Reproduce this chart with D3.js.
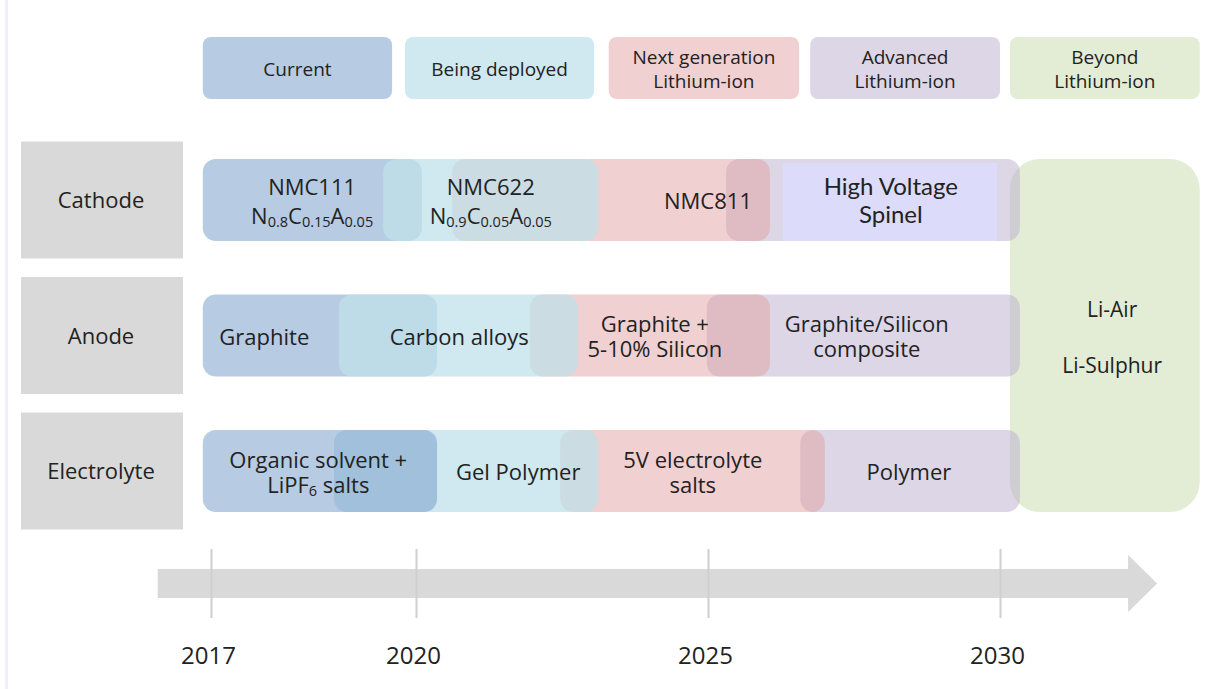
<!DOCTYPE html>
<html>
<head>
<meta charset="utf-8">
<script src="https://cdn.jsdelivr.net/npm/d3@7"></script>
<style>
  html, body { margin: 0; background: #fff; }
  svg { display: block; }
</style>
</head>
<body>
<svg id="chart" width="1216" height="689"></svg>
<script>
// ---- Data -------------------------------------------------------------
const years = [2017, 2020, 2025, 2030];

const phaseKeys   = ["current", "deployed", "next", "advanced", "beyond"];
const phaseNames  = [["Current"], ["Being deployed"], ["Next generation", "Lithium-ion"],
                     ["Advanced", "Lithium-ion"], ["Beyond", "Lithium-ion"]];
const phaseFrom   = [2016.88, 2019.84, 2023.30, 2026.75, 2030.17];
const phaseTo     = [2019.65, 2023.05, 2026.56, 2030.00, 2033.42];
const phaseColors = ["#6f97c7", "#c0e0ea", "#e1a1a1", "#b9adcd", "#c7d9a9"];
const phaseAlpha  = [0.5, 0.75, 0.5, 0.5, 0.5];

const components = ["Cathode", "Anode", "Electrolyte"];

// Technologies per component, listed in stacking order (later ones sit on top).
// Text uses _{..} for subscripts; "at" is the year the label is centred on.
const cathodeTech = [
  { phase: "advanced", from: 2025.31, to: 2030.34, lines: [], at: null },
  { phase: "next",     from: 2020.62, to: 2026.06, lines: ["NMC811"], at: 2025.0 },
  { phase: "current",  from: 2016.88, to: 2020.10, lines: ["NMC111", "N_{0.8}C_{0.15}A_{0.05}"], at: 2018.48 },
  { phase: "deployed", from: 2019.52, to: 2023.12, lines: ["NMC622", "N_{0.9}C_{0.05}A_{0.05}"], at: 2021.28 }
];
const anodeTech = [
  { phase: "advanced", from: 2024.98, to: 2030.34, lines: ["Graphite/Silicon", "composite"], at: 2027.72 },
  { phase: "next",     from: 2021.95, to: 2026.06, lines: ["Graphite +", "5-10% Silicon"], at: 2024.09 },
  { phase: "current",  from: 2016.88, to: 2020.36, lines: ["Graphite"], at: 2017.78 },
  { phase: "deployed", from: 2018.87, to: 2022.77, lines: ["Carbon alloys"], at: 2020.74 }
];
const electrolyteTech = [
  { phase: "advanced", from: 2026.58, to: 2030.34, lines: ["Polymer"], at: 2028.44 },
  { phase: "next",     from: 2022.47, to: 2027.00, lines: ["5V electrolyte", "salts"], at: 2024.74 },
  { phase: "deployed", from: 2018.80, to: 2023.12, lines: ["Gel Polymer"], at: 2021.75 },
  { phase: "current",  from: 2016.88, to: 2020.36, lines: ["Organic solvent +", "LiPF_{6} salts"], at: 2018.57 }
];

// High-voltage spinel highlight inside the advanced cathode bar
const spinel = { from: 2026.28, to: 2029.95, lines: ["High Voltage", "Spinel"], at: 2028.13 };

// Post lithium-ion chemistries spanning all components
const beyondTech = { from: 2030.17, to: 2033.42, lines: ["Li-Air", "", "Li-Sulphur"], at: 2031.92 };

const arrowFrom = 2016.22, arrowTo = 2032.69;

// ---- Layout -----------------------------------------------------------
const svg = d3.select("#chart");
const FONT = "'Open Sans', 'Noto Sans', sans-serif";
const INK = "#222";

// the timeline runs faster before 2020 than after it
const x = d3.scaleLinear().domain([2017, 2020, 2030]).range([211, 416, 1000]);
const y = d3.scalePoint().domain(components).range([200, 471]);
const color = d3.scaleOrdinal().domain(phaseKeys).range(phaseColors);
const alpha = d3.scaleOrdinal().domain(phaseKeys).range(phaseAlpha);

const BAR_H = 82, LABEL_H = 117;

// text helper: lines centred on (cx, cy), with _{..} parsed as subscripts
function addText(g, lines, cx, cy, opt) {
  const size = opt.size, gap = opt.gap, subSize = opt.subSize || Math.round(size * 0.66);
  const drop = opt.subDrop || 3;
  const n = lines.length;
  const t = g.append("text")
    .attr("text-anchor", "middle")
    .attr("font-family", opt.family || FONT)
    .attr("font-size", size)
    .attr("fill", INK);
  lines.forEach((line, i) => {
    const base = cy + opt.shift + (i - (n - 1) / 2) * gap;
    const row = t.append("tspan").attr("x", cx).attr("y", base);
    const parts = line.split(/(_\{[^}]*\})/).filter(s => s.length);
    let lowered = false;
    parts.forEach(p => {
      const m = p.match(/^_\{([^}]*)\}$/);
      if (m) {
        row.append("tspan").attr("font-size", subSize).attr("dy", lowered ? 0 : drop).text(m[1]);
        lowered = true;
      } else {
        row.append("tspan").attr("dy", lowered ? -drop : 0).text(p);
        lowered = false;
      }
    });
  });
}

// faint page edge
svg.append("rect").attr("x", 5).attr("y", 0).attr("width", 3).attr("height", 689).attr("fill", "#eef1f5");

// phase headers
const header = svg.append("g");
phaseKeys.forEach((k, i) => {
  header.append("rect")
    .attr("x", x(phaseFrom[i])).attr("y", 37)
    .attr("width", x(phaseTo[i]) - x(phaseFrom[i])).attr("height", 62)
    .attr("rx", 8).attr("fill", color(k)).attr("fill-opacity", alpha(k));
  addText(header, phaseNames[i], (x(phaseFrom[i]) + x(phaseTo[i])) / 2, 68, { size: 19, gap: 24, shift: 8 });
});

// component labels
const rowLabels = svg.append("g");
components.forEach(c => {
  rowLabels.append("rect")
    .attr("x", 21).attr("y", y(c) - LABEL_H / 2).attr("width", 162).attr("height", LABEL_H)
    .attr("fill", "#d9d9d9");
  addText(rowLabels, [c], 101, y(c), { size: 22, gap: 25, shift: 8 });
});

// bars
const bars = svg.append("g");
const texts = svg.append("g");

const bandTop = y("Cathode") - BAR_H / 2, bandBottom = y("Electrolyte") + BAR_H / 2;
bars.append("rect")
  .attr("x", x(beyondTech.from)).attr("y", bandTop)
  .attr("width", x(beyondTech.to) - x(beyondTech.from)).attr("height", bandBottom - bandTop)
  .attr("rx", 30).attr("fill", color("beyond")).attr("fill-opacity", alpha("beyond"));
addText(texts, beyondTech.lines, x(beyondTech.at), (bandTop + bandBottom) / 2, { size: 21, gap: 28, shift: 9 });

const techByRow = { Cathode: cathodeTech, Anode: anodeTech, Electrolyte: electrolyteTech };
components.forEach(c => {
  const cy = y(c);
  bars.selectAll(null).data(techByRow[c]).join("rect")
    .attr("x", d => x(d.from)).attr("y", cy - BAR_H / 2)
    .attr("width", d => x(d.to) - x(d.from)).attr("height", BAR_H)
    .attr("rx", 13).attr("fill", d => color(d.phase)).attr("fill-opacity", d => alpha(d.phase));
  techByRow[c].filter(d => d.lines.length).forEach(d => {
    const subs = d.lines.some(l => l.includes("_{"));
    addText(texts, d.lines, x(d.at), cy,
      { size: 22, gap: subs && c === "Cathode" ? 29 : 25, shift: 9, subSize: 14.5, subDrop: 3 });
  });
});

// spinel highlight
const cyC = y("Cathode");
bars.append("rect")
  .attr("x", x(spinel.from)).attr("y", cyC - 37)
  .attr("width", x(spinel.to) - x(spinel.from)).attr("height", 78)
  .attr("fill", "#dcdbf9");
addText(texts, spinel.lines, x(spinel.at), cyC, { size: 24, gap: 28, shift: 9, family: "Lato, 'Open Sans', sans-serif" });
texts.raise();

// timeline arrow
const ax0 = x(arrowFrom), ax1 = x(arrowTo), head = 29;
svg.append("path")
  .attr("d", `M${ax0},569 H${ax1 - head} V555 L${ax1},583.5 L${ax1 - head},612 V598 H${ax0} Z`)
  .attr("fill", "#d9d9d9");

// year axis
const axis = svg.append("g")
  .attr("transform", "translate(0,618)")
  .call(d3.axisBottom(x).tickValues(years).tickFormat(d3.format("d")).tickSize(-69).tickPadding(29));
axis.select(".domain").remove();
axis.selectAll(".tick line").attr("stroke", "#cfcfcf").attr("stroke-width", 2);
axis.selectAll(".tick text")
  .attr("font-family", FONT).attr("font-size", 24).attr("fill", INK).attr("dx", -3);
</script>
</body>
</html>
